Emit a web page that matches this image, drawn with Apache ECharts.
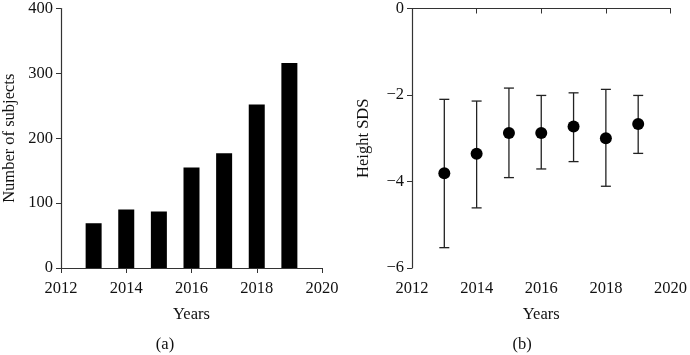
<!DOCTYPE html>
<html>
<head>
<meta charset="utf-8">
<script src="https://cdn.jsdelivr.net/npm/echarts@6/dist/echarts.min.js"></script>
<style>
  html, body { margin: 0; padding: 0; background: #fff; }
  #chart { width: 690px; height: 355px; }
</style>
</head>
<body>
<div id="chart"></div>
<script>
// panel (a): subjects per year
var years = [2013, 2014, 2015, 2016, 2017, 2018, 2019];
var subjects = [69, 90, 87, 155, 177, 252, 316];
// panel (b): height SDS mean with error bar ends
var sdsMean = [-3.81, -3.36, -2.88, -2.88, -2.73, -3.00, -2.67];
var sdsHigh = [-2.10, -2.14, -1.84, -2.01, -1.95, -1.87, -2.01];
var sdsLow = [-5.53, -4.61, -3.91, -3.71, -3.54, -4.11, -3.35];

var fontFamily = 'Liberation Serif';
var axisColor = '#333';
var textColor = '#111';

var myChart = echarts.init(document.getElementById('chart'));

function xAxisFor(idx) {
  return {
    type: 'value', gridIndex: idx, min: 2012, max: 2020, interval: 2,
    name: 'Years', nameLocation: 'middle', nameGap: 38,
    nameTextStyle: { fontFamily: fontFamily, fontSize: 16.5, color: textColor },
    axisLine: { lineStyle: { color: axisColor, width: 1.2 } },
    axisTick: { show: true, length: 5, lineStyle: { color: axisColor } },
    axisLabel: { fontFamily: fontFamily, fontSize: 16.5, color: textColor, margin: 12,
      formatter: function (v) { return String(v); } },
    splitLine: { show: false }
  };
}

var errorData = years.map(function (y, i) { return [y, sdsLow[i], sdsHigh[i]]; });
var pointData = years.map(function (y, i) { return [y, sdsMean[i]]; });
var barData = years.map(function (y, i) { return [y, subjects[i]]; });

var option = {
  animation: false,
  backgroundColor: '#fff',
  title: [
    { text: '(a)', left: 165, top: 336, textAlign: 'center', padding: 0,
      textStyle: { fontFamily: fontFamily, fontSize: 16.5, fontWeight: 'normal', color: textColor } },
    { text: '(b)', left: 522, top: 336, textAlign: 'center', padding: 0,
      textStyle: { fontFamily: fontFamily, fontSize: 16.5, fontWeight: 'normal', color: textColor } }
  ],
  grid: [
    { left: 61, right: 368, top: 6, bottom: 87 },
    { left: 412, right: 16, top: 6, bottom: 87 }
  ],
  xAxis: [xAxisFor(0), xAxisFor(1)],
  yAxis: [
    {
      type: 'value', gridIndex: 0, min: 0, max: 400, interval: 100,
      name: 'Number of subjects', nameLocation: 'middle', nameGap: 43,
      nameTextStyle: { fontFamily: fontFamily, fontSize: 16.5, color: textColor },
      axisLine: { show: true, lineStyle: { color: axisColor, width: 1.2 } },
      axisTick: { show: true, length: 5, lineStyle: { color: axisColor } },
      axisLabel: { fontFamily: fontFamily, fontSize: 16.5, color: textColor, margin: 8 },
      splitLine: { show: false }
    },
    {
      type: 'value', gridIndex: 1, min: -6, max: 0, interval: 2,
      name: 'Height SDS', nameLocation: 'middle', nameGap: 40,
      nameTextStyle: { fontFamily: fontFamily, fontSize: 16.5, color: textColor },
      axisLine: { show: true, lineStyle: { color: axisColor, width: 1.2 } },
      axisTick: { show: true, length: 5, lineStyle: { color: axisColor } },
      axisLabel: { fontFamily: fontFamily, fontSize: 16.5, color: textColor, margin: 8,
        formatter: function (v) { return String(v).replace('-', '\u2212'); } },
      splitLine: { show: false }
    }
  ],
  series: [
    {
      type: 'bar', xAxisIndex: 0, yAxisIndex: 0,
      barWidth: 16,
      itemStyle: { color: '#000' },
      data: barData
    },
    {
      type: 'custom', xAxisIndex: 1, yAxisIndex: 1,
      renderItem: function (params, api) {
        var x = api.value(0);
        var lo = api.coord([x, api.value(1)]);
        var hi = api.coord([x, api.value(2)]);
        var half = 5;
        var style = { stroke: '#222', lineWidth: 1.3 };
        return {
          type: 'group',
          children: [
            { type: 'line', shape: { x1: lo[0], y1: lo[1], x2: hi[0], y2: hi[1] }, style: style },
            { type: 'line', shape: { x1: lo[0] - half, y1: lo[1], x2: lo[0] + half, y2: lo[1] }, style: style },
            { type: 'line', shape: { x1: hi[0] - half, y1: hi[1], x2: hi[0] + half, y2: hi[1] }, style: style }
          ]
        };
      },
      encode: { x: 0, y: [1, 2] },
      data: errorData,
      z: 2
    },
    {
      type: 'scatter', xAxisIndex: 1, yAxisIndex: 1,
      symbol: 'circle', symbolSize: 12,
      itemStyle: { color: '#000', opacity: 1 },
      data: pointData,
      z: 3
    }
  ]
};

myChart.setOption(option);
</script>
</body>
</html>
